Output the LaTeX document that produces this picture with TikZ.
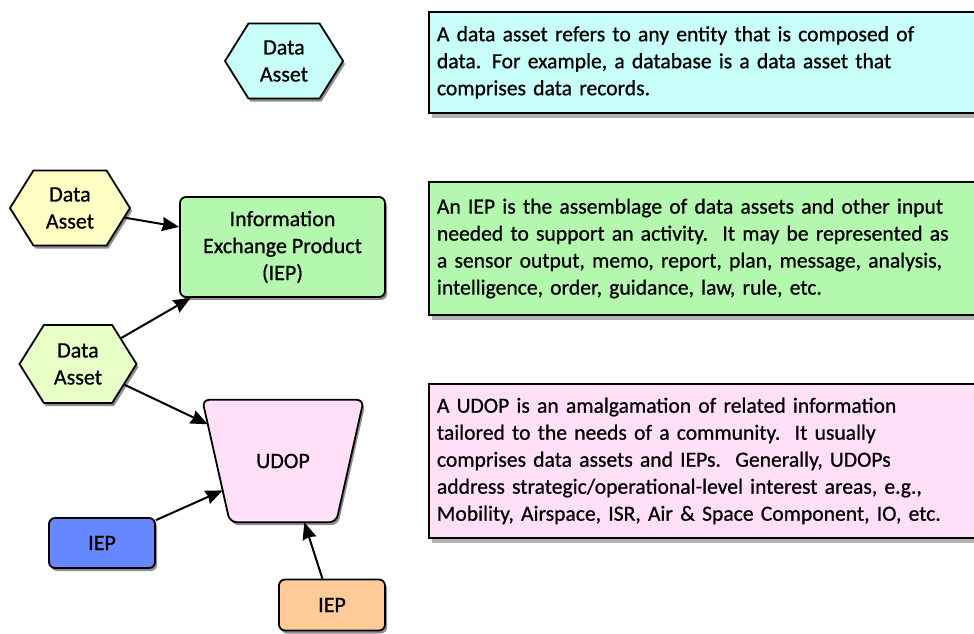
\documentclass[tikz,border=0pt]{standalone}
\usepackage{fontspec}
\setmainfont{Carlito}[FakeBold=0.7]
\usetikzlibrary{shapes.geometric,shapes.symbols,shadows,arrows.meta,calc}
\definecolor{cyanf}{RGB}{200,255,250}
\definecolor{yelf}{RGB}{255,255,196}
\definecolor{grnf}{RGB}{180,248,176}
\definecolor{lgrf}{RGB}{232,255,200}
\definecolor{pnkf}{RGB}{255,224,248}
\definecolor{bluf}{RGB}{102,136,255}
\definecolor{orgf}{RGB}{255,204,153}
\begin{document}
\begin{tikzpicture}[x=1pt,y=-1pt,
  every node/.style={font=\fontsize{22}{27}\selectfont},
  shd/.style={drop shadow={shadow xshift=2pt,shadow yshift=-3pt,fill=black!55,opacity=0.8}},
  hex/.style={shape=signal, signal to=east and west, signal pointer angle=116, draw=black, line width=1.8pt, minimum width=118pt, minimum height=75pt, inner sep=0pt, align=center, shd},
  rbox/.style={rectangle, rounded corners=6pt, draw=black, line width=1.8pt, align=center, shd},
  tbox/.style={rectangle, draw=black, line width=1.9pt, anchor=north west, text width=584pt, inner xsep=8pt, inner ysep=0pt, align=left, font=\fontsize{21.6}{27}\selectfont, drop shadow={shadow xshift=3pt,shadow yshift=-5pt,fill=black!60}},
  arr/.style={-{Stealth[inset=1.5pt,length=17pt,width=14pt]}, line width=2pt}
]
\useasboundingbox (0,0) rectangle (974,633);

\node[hex, fill=cyanf] (da1) at (284,61) {Data\\Asset};
\node[hex, fill=yelf, minimum width=120pt] (da2) at (70,208) {Data\\Asset};
\node[hex, fill=lgrf, minimum width=117pt, minimum height=78pt] (da3) at (78,364) {Data\\Asset};

\node[rbox, fill=grnf, minimum width=205pt, minimum height=100pt] (iep) at (282.5,247) {Information\\Exchange Product\\(IEP)};

% UDOP: trapezoid drawn around a named node
\node[rectangle, minimum width=161pt, minimum height=122pt, inner sep=0pt] (udop) at (283,461) {};
\coordinate (uNW) at (udop.north west);
\coordinate (uNE) at (udop.north east);
\coordinate (uSE) at ($(udop.south east)+(-27.5,0)$);
\coordinate (uSW) at ($(udop.south west)+(27.5,0)$);
\path[draw=black, line width=1.8pt, fill=pnkf, rounded corners=7pt, shd] (uNW) -- (uNE) -- (uSE) -- (uSW) -- cycle;
\node at (udop.center) {UDOP};
\coordinate (uA) at ($(uNW)!0.2!(uSW)$);
\coordinate (uB) at ($(uNW)!0.74!(uSW)$);
\coordinate (uC) at ($(uSW)!0.7!(uSE)$);

\node[rbox, fill=bluf, minimum width=106pt, minimum height=50pt] (iepb) at (102,543) {IEP};
\node[rbox, fill=orgf, minimum width=106pt, minimum height=51pt] (iepo) at (332,605) {IEP};

\node[tbox, fill=cyanf, minimum height=101pt] (t1) at (428,11) {A data asset refers to any entity that is composed of\\data. For example, a database is a data asset that\\comprises data records.};
\node[tbox, fill=grnf, minimum height=133pt] (t2) at (428,181) {An IEP is the assemblage of data assets and other input\\needed to support an activity.\ \ It may be represented as\\a sensor output, memo, report, plan, message, analysis,\\intelligence, order, guidance, law, rule, etc.};
\node[tbox, fill=pnkf, minimum height=154pt] (t3) at (428,383) {A UDOP is an amalgamation of related information\\tailored to the needs of a community.\ \ It usually\\comprises data assets and IEPs.\ \ Generally, UDOPs\\address strategic/operational-level interest areas, e.g.,\\Mobility, Airspace, ISR, Air \& Space Component, IO, etc.};

\draw[arr] (da2.-10) -- (iep.169);
\draw[arr] (da3.31) -- (iep.209);
\draw[arr] (da3.-24) -- (uA);
\draw[arr] (iepb.23) -- (uB);
\draw[arr] (iepo.110) -- (uC);
\end{tikzpicture}
\end{document}
